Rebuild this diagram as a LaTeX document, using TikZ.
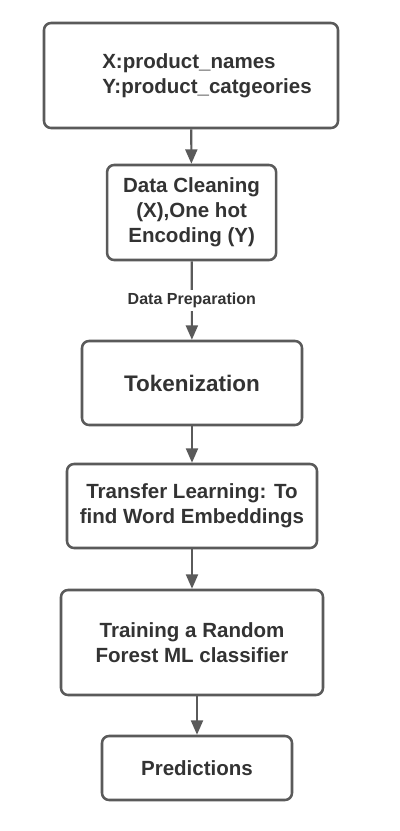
\documentclass[tikz,border=0pt]{standalone}
\usepackage{fontspec}
\setmainfont{Liberation Sans}
\usetikzlibrary{arrows.meta}
\definecolor{linegray}{HTML}{5A5A5A}
\definecolor{textgray}{HTML}{333333}
\begin{document}
\begin{tikzpicture}[font=\bfseries\fontsize{14.6}{17.7}\selectfont, text=textgray,
  stage/.style={draw=linegray, line width=1.8pt, rounded corners=5pt, align=center, inner sep=0pt, fill=white},
  flow/.style={-{Triangle[width=0.3cm, length=0.36cm]}, draw=linegray, line width=1.5pt}]
  \useasboundingbox[fill=white] (0,0) rectangle (10,-20.775);
  \node[stage, minimum width=7.35cm, minimum height=2.625cm, align=left] (data) at (4.775,-1.8875)
    {\hspace*{0.8cm}X:product\_names\\\hspace*{0.8cm}Y:product\_catgeories};
  \node[stage, minimum width=4.225cm, minimum height=2.375cm] (clean) at (4.79,-5.3125)
    {Data Cleaning\\(X),One hot\\Encoding (Y)};
  \node[stage, minimum width=5.5cm, minimum height=2.1cm, font=\bfseries\fontsize{16}{19}\selectfont] (token) at (4.8,-9.575)
    {Tokenization};
  \node[stage, minimum width=6.25cm, minimum height=2.1cm] (embed) at (4.8,-12.65)
    {Transfer Learning: To\\find Word Embeddings};
  \node[stage, minimum width=6.55cm, minimum height=2.625cm] (forest) at (4.8,-16.0625)
    {Training a Random\\Forest ML classifier};
  \node[stage, minimum width=4.75cm, minimum height=1.6cm] (pred) at (4.925,-19.2)
    {Predictions};
  \draw[flow] (data) -- (clean);
  \draw[flow] (clean) -- (token) node[midway, fill=white, text=textgray, inner sep=2pt, font=\bfseries\fontsize{11.4}{13}\selectfont] {Data Preparation};
  \draw[flow] (token) -- (embed);
  \draw[flow] (embed) -- (forest);
  \draw[flow] (forest.south -| pred) -- (pred);
\end{tikzpicture}
\end{document}
